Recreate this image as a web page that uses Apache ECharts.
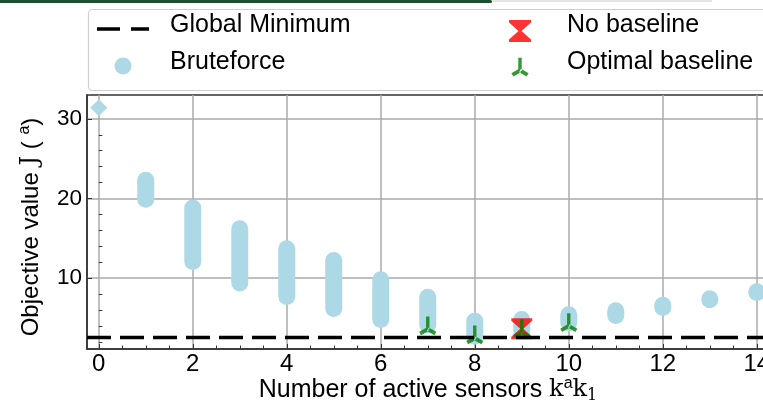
<!DOCTYPE html>
<html><head><meta charset="utf-8">
<script src="https://cdn.jsdelivr.net/npm/echarts@6/dist/echarts.min.js"></script>
<style>html,body{margin:0;padding:0;background:#fff}#c{width:763px;height:401px}</style>
</head><body><div id="c"></div>
<script>
// ---- data ----
const K = [0,1,2,3,4,5,6,7,8,9,10,11,12,13,14];
const BRUTE_MIN = [31.4,19.9,12.1,9.4,7.7,6.2,4.8,4.1,2.7,3.4,4.4,5.3,6.3,7.3,8.2];
const BRUTE_MAX = [31.4,22.3,18.8,16.2,13.7,12.2,9.8,7.6,4.6,4.8,5.4,5.9,6.6,7.4,8.3];
const NO_BASELINE_K = [9];
const NO_BASELINE_J = [3.65];
const OPT_K = [7,8,9,10];
const OPT_J = [3.6,2.45,3.2,4.0];
const GLOBAL_MIN = 2.6;
const X_MIN = -0.25, X_MAX = 14.26, Y_MIN = 1.1, Y_MAX = 33;
const X_MAJOR = [0,2,4,6,8,10,12,14];
const X_MINOR = [0.5,1,1.5,2.5,3,3.5,4.5,5,5.5,6.5,7,7.5,8.5,9,9.5,10.5,11,11.5,12.5,13,13.5];
const Y_MAJOR = [10,20,30];
const Y_MINOR = [2,4,6,8,12,14,16,18,22,24,26,28,32];

const FONT = 'Liberation Sans';
const BRUTE_COLOR = '#add8e6';

const bruteData = K.map((k,i)=>[k, BRUTE_MIN[i], BRUTE_MAX[i]]);
const noData = NO_BASELINE_K.map((k,i)=>[k, NO_BASELINE_J[i]]);
const optData = OPT_K.map((k,i)=>[k, OPT_J[i]]);

// tri_up marker built around its junction point (cx, cy)
function triPath(cx, cy) {
  const hs = 1.7, ha = 1.9, L = 8.8, S = 12.7;
  const dx = 0.866, dy = 0.5, nx = -0.5 * ha, ny = 0.866 * ha;
  const f = v => v.toFixed(3);
  const ex = L * dx, ey = L * dy;
  let p = 'M' + f(cx-hs) + ',' + f(cy-S) + 'L' + f(cx+hs) + ',' + f(cy-S) + 'L' + f(cx+hs) + ',' + f(cy+0.5) + 'L' + f(cx-hs) + ',' + f(cy+0.5) + 'Z';
  p += 'M' + f(cx+nx) + ',' + f(cy+ny) + 'L' + f(cx+ex+nx) + ',' + f(cy+ey+ny) + 'L' + f(cx+ex-nx) + ',' + f(cy+ey-ny) + 'L' + f(cx-nx) + ',' + f(cy-ny) + 'Z';
  p += 'M' + f(cx-nx) + ',' + f(cy+ny) + 'L' + f(cx-ex-nx) + ',' + f(cy+ey+ny) + 'L' + f(cx-ex+nx) + ',' + f(cy+ey-ny) + 'L' + f(cx+nx) + ',' + f(cy-ny) + 'Z';
  return p;
}
function hourPath(cx, cy, w, h) {
  const a = w / 2, b = h / 2, bar = 2.5, waist = 1.5;
  const P = (x, y) => (cx + x).toFixed(2) + ',' + (cy + y).toFixed(2);
  return 'M' + P(-a,-b) + 'L' + P(a,-b) + 'L' + P(a,-b+bar) + 'L' + P(waist,0) + 'L' + P(a,b-bar) + 'L' + P(a,b) +
         'L' + P(-a,b) + 'L' + P(-a,b-bar) + 'L' + P(-waist,0) + 'L' + P(-a,-b+bar) + 'Z';
}
const TRI = 'M-9.5,-12.7L-9.5,-12.7M9.5,12.7L9.5,12.7' + triPath(0, 0);
const HOUR = hourPath(0, 0, 21, 21);

// legend icons in an 84x34 box
const PAD = 'M0,0L0,0M84,34L84,34';
const IC_DASH = 'path://' + PAD + 'M16,19.35L39,19.35L39,22.65L16,22.65ZM50,19.35L68,19.35L68,22.65L50,22.65Z';
const IC_CIRC = 'path://' + PAD + 'M33.5,21A8.5,8.5 0 1,0 50.5,21A8.5,8.5 0 1,0 33.5,21Z';
const IC_HOUR = 'path://' + PAD + hourPath(42, 23, 22, 22);
const IC_TRI = 'path://' + PAD + triPath(42, 25.5);

const chart = echarts.init(document.getElementById('c'), null, {renderer:'canvas'});
const legendBase = {
  orient: 'vertical', top: 8, itemWidth: 84, itemHeight: 34, itemGap: 3,
  selectedMode: false, padding: 0,
  textStyle: {fontFamily: FONT, fontSize: 25, color: '#000'}
};
chart.setOption({
  animation: false,
  backgroundColor: '#fff',
  graphic: [
    {type:'rect', z:0, shape:{x:0,y:0,width:492,height:3,r:[0,3,3,0]}, style:{fill:'#1b4f2d'}},
    {type:'rect', z:0, shape:{x:492,y:0,width:220,height:2}, style:{fill:'#e4e4e4'}},
    {type:'rect', z:0, shape:{x:88.5,y:9.5,width:740,height:81,r:4}, style:{fill:'#fff', stroke:'#cfcfcf', lineWidth:1.2}}
  ],
  legend: [
    Object.assign({}, legendBase, {left: 81, data: [
      {name:'Global Minimum', icon: IC_DASH},
      {name:'Bruteforce', icon: IC_CIRC}
    ]}),
    Object.assign({}, legendBase, {left: 478, data: [
      {name:'No baseline', icon: IC_HOUR},
      {name:'Optimal baseline', icon: IC_TRI}
    ]})
  ],
  grid: {left: 87, top: 95, right: -6, bottom: 52, show: true, borderColor: '#333', borderWidth: 1.5,
         containLabel: false, outerBoundsMode: 'none'},
  xAxis: [{
    type: 'value', min: X_MIN, max: X_MAX, position: 'bottom',
    axisLine: {show: true, onZero: false, lineStyle: {color: '#333', width: 1.5}},
    axisTick: {show: true, inside: true, length: 5, customValues: X_MAJOR, lineStyle: {color: '#333', width: 1}},
    axisLabel: {customValues: X_MAJOR, margin: 3, fontFamily: FONT, fontSize: 24, color: '#000'},
    splitLine: {show: true, lineStyle: {color: '#aaaaaa', width: 1.5}},
    name: 'Number of active sensors {m|k}{sup|a}{m|k}{sub|1}',
    nameLocation: 'middle', nameGap: 27, nameMoveOverlap: false,
    nameTextStyle: {fontFamily: FONT, fontSize: 25, color: '#000', lineHeight: 28,
      rich: {
        m: {fontFamily: 'DejaVu Serif', fontSize: 24, color: '#000', lineHeight: 28},
        sup: {fontFamily: FONT, fontSize: 16, color: '#000', verticalAlign: 'top', lineHeight: 14},
        sub: {fontFamily: 'DejaVu Serif', fontSize: 16, color: '#000', verticalAlign: 'bottom', lineHeight: 14}
      }}
  }, {
    type: 'value', min: X_MIN, max: X_MAX, position: 'bottom',
    axisLine: {show: false}, axisLabel: {show: false}, splitLine: {show: false},
    axisTick: {show: true, inside: true, length: 3.5, customValues: X_MINOR, lineStyle: {color: '#333', width: 1}}
  }],
  yAxis: [{
    type: 'value', min: Y_MIN, max: Y_MAX, position: 'left',
    axisLine: {show: true, onZero: false, lineStyle: {color: '#333', width: 1.5}},
    axisTick: {show: true, inside: true, length: 5, customValues: Y_MAJOR, lineStyle: {color: '#333', width: 1}},
    axisLabel: {customValues: Y_MAJOR, margin: 5, fontFamily: FONT, fontSize: 22.5, color: '#000'},
    splitLine: {show: true, lineStyle: {color: '#aaaaaa', width: 1.5}},
    name: 'Objective value {m|J} ( {sup|a})',
    nameLocation: 'middle', nameRotate: 90, nameGap: 42, nameMoveOverlap: false,
    nameTextStyle: {fontFamily: FONT, fontSize: 24, color: '#000', lineHeight: 28, padding: [0, 10, 0, 0],
      rich: {
        m: {fontFamily: 'DejaVu Serif', fontSize: 24, color: '#000', lineHeight: 28},
        sup: {fontFamily: FONT, fontSize: 16, color: '#000', verticalAlign: 'top', lineHeight: 14}
      }}
  }, {
    type: 'value', min: Y_MIN, max: Y_MAX, position: 'left',
    axisLine: {show: false}, axisLabel: {show: false}, splitLine: {show: false},
    axisTick: {show: true, inside: true, length: 3.5, customValues: Y_MINOR, lineStyle: {color: '#333', width: 1}}
  }],
  series: [
    {
      name: 'Global Minimum', type: 'line', data: [], z: 1, color: '#000',
      markLine: {silent: true, symbol: 'none', label: {show: false},
        lineStyle: {color: '#000', width: 3.3, type: [24, 9]},
        data: [{yAxis: GLOBAL_MIN}]}
    },
    {
      name: 'Bruteforce', type: 'custom', z: 2, color: BRUTE_COLOR,
      data: bruteData, encode: {x: 0, y: [1, 2]},
      renderItem: function (params, api) {
        const k = api.value(0), lo = api.value(1), hi = api.value(2);
        const pt = api.coord([k, hi]), pb = api.coord([k, lo]);
        const r = 8.5;
        if (params.dataIndex === 0) {
          const c = api.coord([k, (lo + hi) / 2]);
          return {type: 'polygon', shape: {points: [[c[0], c[1]-8.5],[c[0]+8.5, c[1]],[c[0], c[1]+8.5],[c[0]-8.5, c[1]]]},
                  style: {fill: BRUTE_COLOR}};
        }
        return {type: 'rect', shape: {x: pt[0]-r, y: pt[1]-r, width: 2*r, height: pb[1]-pt[1]+2*r, r: r},
                style: {fill: BRUTE_COLOR}};
      }
    },
    {
      name: 'No baseline', type: 'scatter', z: 3, color: '#ff0000',
      symbol: 'path://' + HOUR, symbolSize: [21, 21], data: noData
    },
    {
      name: 'Optimal baseline', type: 'scatter', z: 4, color: '#008000',
      symbol: 'path://' + TRI, symbolSize: [19, 25.4], data: optData
    }
  ]
});
</script></body></html>
